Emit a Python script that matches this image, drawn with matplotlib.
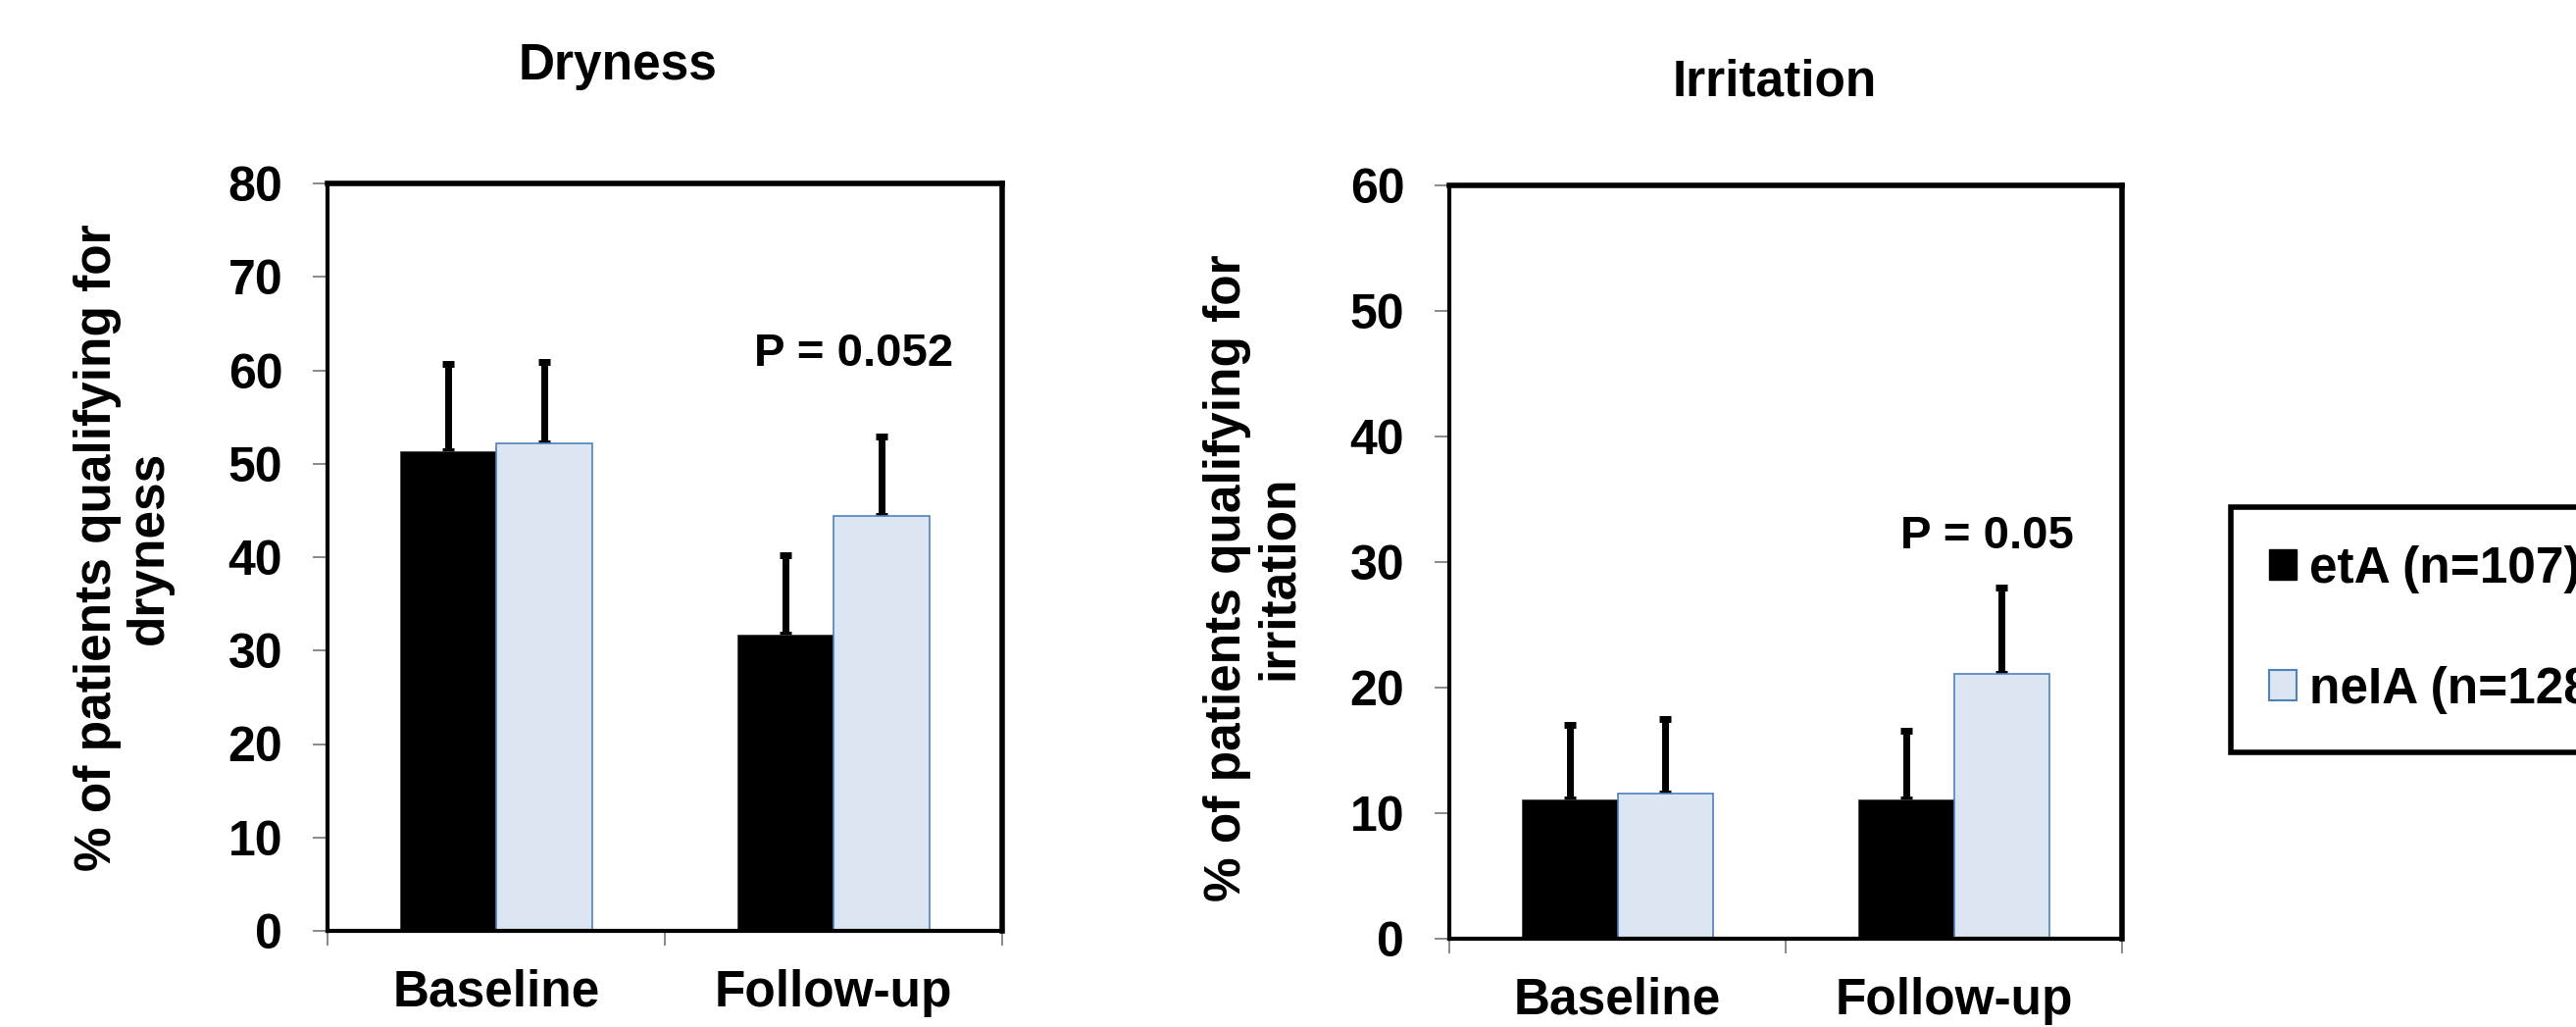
import matplotlib
matplotlib.use('Agg')
import matplotlib.pyplot as plt
from matplotlib.patches import Patch
import numpy as np

plt.rcParams['font.family'] = ['Liberation Sans', 'DejaVu Sans']
plt.rcParams['font.weight'] = 'bold'

# ── Data ──────────────────────────────────────────────────────────────────────
categories = ['Baseline', 'Follow-up']
groups = ['etA (n=107)', 'neIA (n=128)']

dry_eta = [51.3, 31.7]
dry_neia = [52.2, 44.4]
dry_eta_err = [9.4, 8.5]
dry_neia_err = [8.7, 8.5]

irr_eta = [11.1, 11.1]
irr_neia = [11.6, 21.1]
irr_eta_err = [5.9, 5.5]
irr_neia_err = [5.9, 6.9]

eta_color = 'black'
neia_color = '#DCE6F2'
neia_edge = '#4F81BD'

W, H = 2627, 1047
fig = plt.figure(figsize=(W / 100, H / 100), dpi=100)


def px_rect(x0, y0, x1, y1):
    return [x0 / W, 1 - y1 / H, (x1 - x0) / W, (y1 - y0) / H]


def bar_panel(ax, eta, neia, eta_err, neia_err, ymax, p_text, p_pos):
    x = np.arange(len(categories)) + 0.5
    w = 0.285
    ax.bar(x - w / 2, eta, w, color=eta_color, edgecolor='#404040', linewidth=0.6, zorder=2)
    ax.bar(x + w / 2, neia, w, color=neia_color, edgecolor=neia_edge, linewidth=1.2, zorder=2)
    for xs, vals, errs in [(x - w / 2, eta, eta_err), (x + w / 2, neia, neia_err)]:
        ax.errorbar(xs, vals, yerr=[np.zeros(len(errs)), errs], fmt='none',
                    ecolor='black', elinewidth=5, capsize=4.5, capthick=5, zorder=1)
    ax.set_xlim(0, 2)
    ax.set_ylim(0, ymax)
    ax.set_yticks(np.arange(0, ymax + 1, 10))
    ax.set_xticks(x)
    ax.set_xticklabels(categories)
    ax.set_xticks([0, 1, 2], minor=True)
    ax.tick_params(axis='y', direction='out', length=11, width=1.3, color='#808080',
                   labelsize=36, pad=22)
    ax.tick_params(axis='x', which='major', length=0, labelsize=37, pad=28)
    ax.tick_params(axis='x', which='minor', direction='out', length=11, width=1.3, color='#808080')
    for lab in ax.get_xticklabels() + ax.get_yticklabels():
        lab.set_fontweight('bold')
    for side in ['top', 'right']:
        ax.spines[side].set_linewidth(4)
    for side in ['left', 'bottom']:
        ax.spines[side].set_linewidth(3)
    ax.text(p_pos[0], p_pos[1], p_text, ha='center', va='center', fontsize=34, fontweight='bold')


ax1 = fig.add_axes(px_rect(334, 187, 1022, 949))
bar_panel(ax1, dry_eta, dry_neia, dry_eta_err, dry_neia_err, 80, 'P = 0.052', (1.56, 61.7))

ax2 = fig.add_axes(px_rect(1478, 189, 2164, 957))
bar_panel(ax2, irr_eta, irr_neia, irr_eta_err, irr_neia_err, 60, 'P = 0.05', (1.60, 32.0))

# titles and y labels placed like the Excel chart areas
fig.text(630 / W, 1 - 68 / H, 'Dryness', ha='center', va='center', fontsize=37, fontweight='bold')
fig.text(1810 / W, 1 - 84 / H, 'Irritation', ha='center', va='center', fontsize=37, fontweight='bold')
fig.text(126 / W, 1 - 558 / H, '% of patients qualifying for\ndryness', rotation=90,
         ha='center', va='center', multialignment='center', fontsize=37, fontweight='bold',
         linespacing=1.1)
fig.text(1278 / W, 1 - 589 / H, '% of patients qualifying for\nirritation', rotation=90,
         ha='center', va='center', multialignment='center', fontsize=37, fontweight='bold',
         linespacing=1.1)

handles = [Patch(facecolor=eta_color, edgecolor=eta_color),
           Patch(facecolor=neia_color, edgecolor=neia_edge, linewidth=1.5)]
leg = fig.legend(handles, groups, loc='upper left', bbox_to_anchor=(2275 / W, 1 - 517 / H),
                 borderaxespad=0, prop={'weight': 'bold', 'size': 37},
                 handlelength=0.55, handleheight=0.55, handletextpad=0.25,
                 labelspacing=1.45, borderpad=0.75, fancybox=False, frameon=True,
                 framealpha=1)
leg.get_frame().set_edgecolor('black')
leg.get_frame().set_linewidth(4)

fig.savefig('out.png', dpi=100)
